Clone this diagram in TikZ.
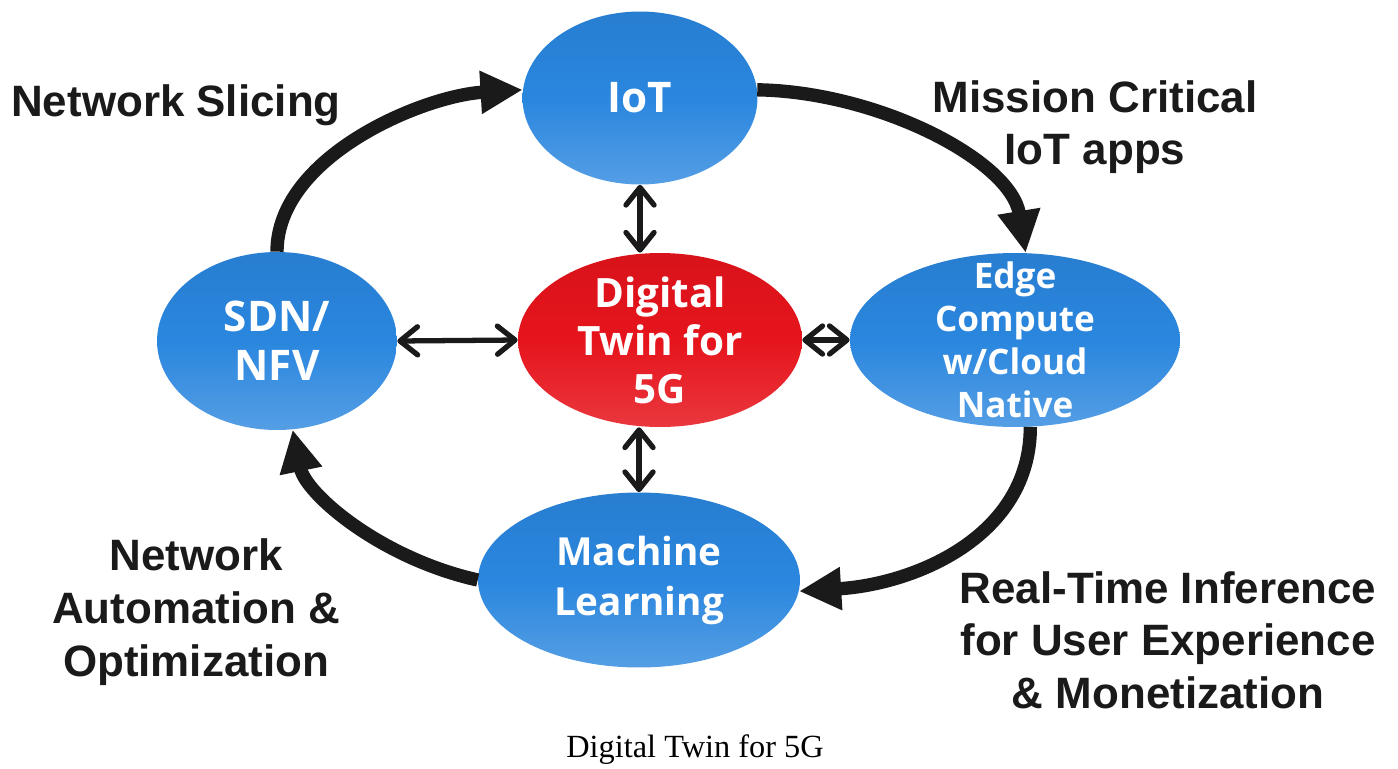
\documentclass[tikz,border=0pt]{standalone}
\usepackage{fontspec}
\setmainfont{Liberation Serif}
\setsansfont{Liberation Sans}
\newfontfamily\ballfont{Open Sans}
\usetikzlibrary{shapes.geometric,arrows.meta}

\definecolor{ballblue}{RGB}{42,134,222}
\definecolor{ballred}{RGB}{230,20,28}
\definecolor{ink}{RGB}{26,26,26}

\begin{document}
\begin{tikzpicture}[x=0.02cm, y=-0.02cm,
            ball/.style={ellipse, inner sep=0pt, draw=none},
            blue ball/.style={ball, top color=ballblue!94!black, bottom color=ballblue!80!white, middle color=ballblue},
            red ball/.style={ball, top color=ballred!94!black, bottom color=ballred!85!white, middle color=ballred},
            ball text/.style={text=white, align=center, font=\ballfont\bfseries\fontsize{23}{27.3}\selectfont},
            loop edge/.style={draw=ink, line width=7.6pt, -{Triangle[length=24pt, width=23pt]}},
            link edge/.style={draw=ink, line width=3pt, {Straight Barb[length=10pt, width=16pt, round]}-{Straight Barb[length=10pt, width=16pt, round]}},
            side label/.style={text=ink, align=center, font=\sffamily\bfseries\fontsize{25}{30}\selectfont}]
            \useasboundingbox (0,0) rectangle (1398,768);
            % the five balls
            \node [blue ball, minimum width=4.70cm, minimum height=3.46cm,
                   label={[ball text, font=\ballfont\bfseries\fontsize{24}{28}\selectfont]center:IoT}] (iot) at (640, 98) {};
            \node [blue ball, minimum width=4.80cm, minimum height=3.56cm,
                   label={[ball text, font=\ballfont\bfseries\fontsize{24}{28}\selectfont]center:SDN/\\NFV}] (sdn) at (277, 341) {};
            \node [red ball, minimum width=5.68cm, minimum height=3.48cm,
                   label={[ball text]center:Digital\\Twin for\\5G}] (twin) at (660, 340) {};
            \node [blue ball, minimum width=6.60cm, minimum height=3.48cm,
                   label={[ball text, font=\ballfont\bfseries\fontsize{20}{24.5}\selectfont]center:Edge\\Compute\\w/Cloud\\Native}] (edge) at (1015, 340) {};
            \node [blue ball, minimum width=6.44cm, minimum height=3.50cm,
                   label={[ball text, font=\ballfont\bfseries\fontsize{22}{28.5}\selectfont]center:Machine\\Learning}] (ml) at (639, 580) {};
            % the loop round the twin
            \draw[loop edge] (sdn.north) .. controls +(0,-95) and +(-100,6) .. (iot.176);
            \draw[loop edge] (iot.4) .. controls +(122,2) and +(-15,-92) .. (edge.83);
            \draw[loop edge] (edge.-80) .. controls +(0,110) and +(115,-7) .. (ml.-4);
            \draw[loop edge] (ml.180) .. controls +(-98,-22) and +(13,64) .. (sdn.-80);
            % links to the twin
            \draw[link edge] (iot.south) -- (iot.south |- twin.north);
            \draw[link edge] (sdn.east) -- (twin.west);
            \draw[link edge] (twin.east) -- (edge.west);
            \draw[link edge] (ml.north) -- (ml.north |- twin.south);
            % texts
            \node[side label] (slicing) at (176, 105) {Network Slicing};
            \node[side label] (critical) at (1095, 127) {Mission Critical\\IoT apps};
            \node[side label] (automation) at (196, 612) {Network\\Automation \&\\Optimization};
            \node[side label] (inference) at (1168, 640) {Real-Time Inference\\for User Experience\\\& Monetization};
            \node[font=\rmfamily\fontsize{18.4}{21}\selectfont, anchor=base] (caption) at (695, 757) {Digital Twin for 5G};
        \end{tikzpicture}
\end{document}
